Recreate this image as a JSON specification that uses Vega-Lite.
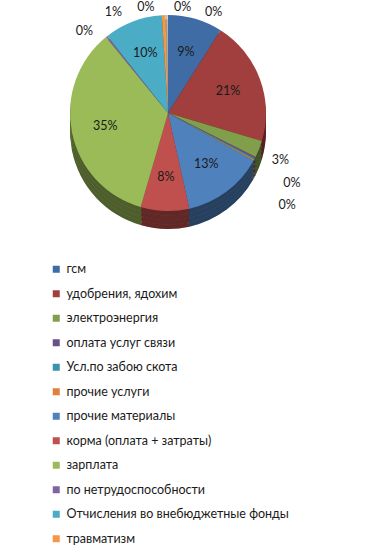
{
  "$schema": "https://vega.github.io/schema/vega-lite/v6.json",
  "autosize": {"type": "none"},
  "padding": {"left": 0, "top": 0, "right": 43, "bottom": 326},
  "width": 336,
  "height": 226,
  "background": "white",
  "config": {"view": {"stroke": null}, "text": {"font": "Lato", "fontSize": 12.5, "color": "#1a1a1a"}},
  "data": {"values": [
    {"n": 1, "cat": "\u00a0гсм", "v": 0.090},
    {"n": 2, "cat": "\u00a0удобрения, ядохим", "v": 0.206},
    {"n": 3, "cat": "\u00a0электроэнергия", "v": 0.028},
    {"n": 4, "cat": "\u00a0оплата услуг связи", "v": 0.003},
    {"n": 5, "cat": "Усл.по забою скота", "v": 0.002},
    {"n": 6, "cat": "прочие услуги", "v": 0.002},
    {"n": 7, "cat": "прочие материалы", "v": 0.134},
    {"n": 8, "cat": "\u00a0корма (оплата + затраты)", "v": 0.080},
    {"n": 9, "cat": "\u00a0зарплата", "v": 0.346},
    {"n": 10, "cat": "\u00a0по нетрудоспособности", "v": 0.003},
    {"n": 11, "cat": "Отчисления во внебюджетные фонды", "v": 0.096},
    {"n": 12, "cat": "травматизм", "v": 0.006},
    {"n": 13, "cat": "прочее 1", "v": 0.0013},
    {"n": 14, "cat": "прочее 2", "v": 0.0013},
    {"n": 15, "cat": "прочее 3", "v": 0.0014}
  ]},
  "encoding": {
    "theta": {"field": "v", "type": "quantitative", "stack": true},
    "order": {"field": "n", "type": "quantitative"},
    "detail": {"field": "cat", "type": "nominal"},
    "color": {
      "field": "cat", "type": "nominal",
      "scale": {
        "domain": ["\u00a0гсм", "\u00a0удобрения, ядохим", "\u00a0электроэнергия", "\u00a0оплата услуг связи", "Усл.по забою скота", "прочие услуги", "прочие материалы", "\u00a0корма (оплата + затраты)", "\u00a0зарплата", "\u00a0по нетрудоспособности", "Отчисления во внебюджетные фонды", "травматизм", "прочее 1", "прочее 2", "прочее 3"],
        "range": ["#3F6CA5", "#A03F3D", "#819F4A", "#6A5089", "#3A93AC", "#E0803A", "#4F81BD", "#C0504D", "#9BBB59", "#8064A2", "#4BACC6", "#F79646", "#A7B9D9", "#D99694", "#C3D69B"]
      },
      "legend": {
        "values": ["\u00a0гсм", "\u00a0удобрения, ядохим", "\u00a0электроэнергия", "\u00a0оплата услуг связи", "Усл.по забою скота", "прочие услуги", "прочие материалы", "\u00a0корма (оплата + затраты)", "\u00a0зарплата", "\u00a0по нетрудоспособности", "Отчисления во внебюджетные фонды", "травматизм"],
        "orient": "none", "legendX": 50, "legendY": 263,
        "title": null, "symbolType": "square", "symbolSize": 49, "symbolStrokeWidth": 0,
        "labelFont": "Lato", "labelFontSize": 12.5, "labelColor": "#1a1a1a", "labelOffset": 4,
        "rowPadding": 11.5, "labelLimit": 320, "padding": 0
      }
    }
  },
  "layer": [
    {"mark": {"type": "arc", "radius": 98, "yOffset": 18}},
    {"mark": {"type": "arc", "radius": 98, "yOffset": 18, "opacity": 0.5}, "encoding": {"color": {"value": "#000"}}},
    {"mark": {"type": "arc", "radius": 98, "yOffset": 13.5}},
    {"mark": {"type": "arc", "radius": 98, "yOffset": 13.5, "opacity": 0.5}, "encoding": {"color": {"value": "#000"}}},
    {"mark": {"type": "arc", "radius": 98, "yOffset": 9}},
    {"mark": {"type": "arc", "radius": 98, "yOffset": 9, "opacity": 0.5}, "encoding": {"color": {"value": "#000"}}},
    {"mark": {"type": "arc", "radius": 98, "yOffset": 4.5}},
    {"mark": {"type": "arc", "radius": 98, "yOffset": 4.5, "opacity": 0.5}, "encoding": {"color": {"value": "#000"}}},
    {"mark": {"type": "arc", "radius": 98}},
    {"mark": {"type": "text", "radius": 64},
     "encoding": {"color": {"value": "#1a1a1a"},
       "text": {"condition": {"test": "datum.v >= 0.05", "field": "v", "type": "quantitative", "format": ".0%"}, "value": ""}}},
    {"mark": {"type": "text", "radius": 110, "dx": 10, "dy": 7},
     "encoding": {"color": {"value": "#1a1a1a"},
       "text": {"condition": {"test": "datum.n === 3", "field": "v", "type": "quantitative", "format": ".0%"}, "value": ""}}},
    {"mark": {"type": "text", "radius": 110, "dx": 26, "dy": 20},
     "encoding": {"color": {"value": "#1a1a1a"},
       "text": {"condition": {"test": "datum.n === 4", "field": "v", "type": "quantitative", "format": ".0%"}, "value": ""}}},
    {"mark": {"type": "text", "radius": 110, "dx": 22, "dy": 40},
     "encoding": {"color": {"value": "#1a1a1a"},
       "text": {"condition": {"test": "datum.n === 5", "field": "v", "type": "quantitative", "format": ".0%"}, "value": ""}}},
    {"mark": {"type": "text", "radius": 108, "dx": -16, "dy": 2},
     "encoding": {"color": {"value": "#1a1a1a"},
       "text": {"condition": {"test": "datum.n === 10", "field": "v", "type": "quantitative", "format": ".0%"}, "value": ""}}},
    {"mark": {"type": "text", "radius": 106, "dx": -50, "dy": 5},
     "encoding": {"color": {"value": "#1a1a1a"},
       "text": {"condition": {"test": "datum.n === 12", "field": "v", "type": "quantitative", "format": ".0%"}, "value": ""}}},
    {"mark": {"type": "text", "radius": 106, "dx": -20, "dy": 0},
     "encoding": {"color": {"value": "#1a1a1a"},
       "text": {"condition": {"test": "datum.n === 13", "field": "v", "type": "quantitative", "format": ".0%"}, "value": ""}}},
    {"mark": {"type": "text", "radius": 106, "dx": 16, "dy": 0},
     "encoding": {"color": {"value": "#1a1a1a"},
       "text": {"condition": {"test": "datum.n === 14", "field": "v", "type": "quantitative", "format": ".0%"}, "value": ""}}},
    {"mark": {"type": "text", "radius": 106, "dx": 46, "dy": 5},
     "encoding": {"color": {"value": "#1a1a1a"},
       "text": {"condition": {"test": "datum.n === 15", "field": "v", "type": "quantitative", "format": ".0%"}, "value": ""}}}
  ]
}
